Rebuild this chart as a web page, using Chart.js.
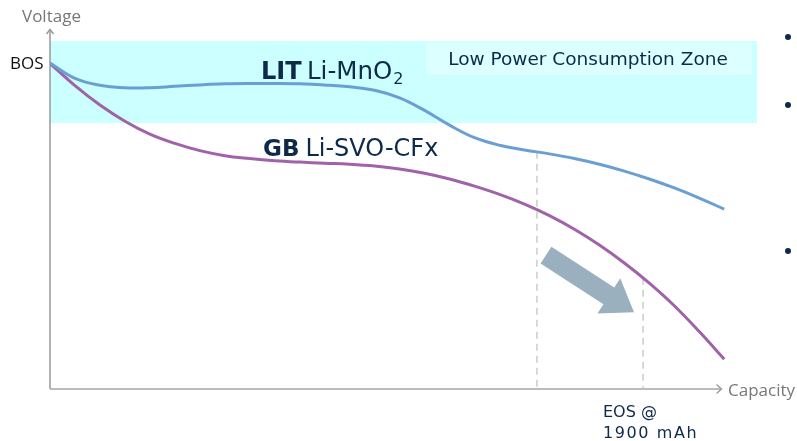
<!DOCTYPE html>
<html>
<head>
<meta charset="utf-8">
<script src="https://cdn.jsdelivr.net/npm/chart.js@4/dist/chart.umd.min.js"></script>
<style>
html,body{margin:0;padding:0;background:#fff;}
#wrap{position:relative;width:797px;height:441px;}
</style>
</head>
<body>
<div id="wrap"><canvas id="c" width="797" height="441"></canvas></div>
<script>
// Capacity in mAh (EOS at 1900 mAh), voltage normalised 0-100
const capacity = [0, 80, 160, 240, 320, 400, 480, 560, 640, 720, 800, 880, 960, 1040, 1120, 1200, 1280, 1360, 1440, 1520, 1600, 1680, 1760, 1840, 1920, 2000, 2080, 2160];
const litV = [90.8, 86.5, 84.6, 83.9, 83.9, 84.3, 84.7, 85.0, 85.1, 85.1, 85.0, 84.7, 84.2, 83.2, 81.1, 77.6, 73.5, 70.0, 67.9, 66.6, 65.5, 64.2, 62.6, 60.7, 58.5, 56.0, 53.2, 50.1];
const gbV = [90.7, 84.5, 79.1, 74.6, 71.0, 68.4, 66.4, 65.0, 64.2, 63.6, 63.2, 62.9, 62.6, 62.1, 61.3, 60.1, 58.5, 56.5, 54.2, 51.5, 48.3, 44.5, 40.1, 35.1, 29.5, 23.2, 16.0, 8.3];
const zoneCap = [0, 2265];
const zoneV = [74.1, 96.9];
const markerCap = [1560, 1900];
const markerTopV = [66.1, 31.0];
const arrowFrom = [1589, 37.3];
const arrowTo = [1871, 21.4];

const toPts = (xs, ys) => xs.map((x, i) => ({x, y: ys[i]}));

const drawPlugin = {
  id: 'deco',
  beforeDatasetsDraw(chart) {
    const ctx = chart.ctx, xs = chart.scales.x, ys = chart.scales.y;
    ctx.save();
    const zx0 = xs.getPixelForValue(zoneCap[0]), zx1 = xs.getPixelForValue(zoneCap[1]);
    const zy0 = ys.getPixelForValue(zoneV[1]), zy1 = ys.getPixelForValue(zoneV[0]);
    ctx.fillStyle = '#ccffff';
    ctx.fillRect(zx0, zy0, zx1 - zx0, zy1 - zy0);
    ctx.fillStyle = '#dcffff';
    ctx.fillRect(426, zy0 + 2, 326, 32);
    ctx.fillStyle = '#0d2a4a';
    ctx.font = '18.5px "DejaVu Sans"';
    ctx.textBaseline = 'middle';
    ctx.textAlign = 'center';
    ctx.fillText('Low Power Consumption Zone', 588, zy0 + 19);
    const ox = xs.getPixelForValue(0), oy = ys.getPixelForValue(0);
    ctx.strokeStyle = '#999';
    ctx.lineWidth = 1.5;
    ctx.beginPath(); ctx.moveTo(ox, oy); ctx.lineTo(ox, 30); ctx.stroke();
    ctx.beginPath(); ctx.moveTo(ox - 3.5, 34); ctx.lineTo(ox, 29.5); ctx.lineTo(ox + 3.5, 34); ctx.stroke();
    ctx.strokeStyle = '#bbb';
    ctx.lineWidth = 2;
    ctx.beginPath(); ctx.moveTo(ox, oy); ctx.lineTo(721, oy); ctx.stroke();
    ctx.strokeStyle = '#999';
    ctx.lineWidth = 1.3;
    ctx.beginPath(); ctx.moveTo(716.5, oy - 4.5); ctx.lineTo(721.5, oy); ctx.lineTo(716.5, oy + 4.5); ctx.stroke();
    ctx.restore();
  },
  afterDatasetsDraw(chart) {
    const ctx = chart.ctx, xs = chart.scales.x, ys = chart.scales.y;
    ctx.save();
    const x0 = xs.getPixelForValue(arrowFrom[0]), y0 = ys.getPixelForValue(arrowFrom[1]);
    const x1 = xs.getPixelForValue(arrowTo[0]), y1 = ys.getPixelForValue(arrowTo[1]);
    const ang = Math.atan2(y1 - y0, x1 - x0), len = Math.hypot(x1 - x0, y1 - y0);
    ctx.translate(x0, y0); ctx.rotate(ang);
    const sw = 10, hw = 21, hl = 30;
    ctx.fillStyle = '#9bb0be';
    ctx.beginPath();
    ctx.moveTo(0, -sw); ctx.lineTo(len - hl, -sw); ctx.lineTo(len - hl, -hw);
    ctx.lineTo(len, 0); ctx.lineTo(len - hl, hw); ctx.lineTo(len - hl, sw); ctx.lineTo(0, sw);
    ctx.closePath(); ctx.fill();
    ctx.setTransform(1, 0, 0, 1, 0, 0);
    ctx.textBaseline = 'alphabetic';
    ctx.textAlign = 'left';
    ctx.fillStyle = '#777';
    ctx.font = '17px "Open Sans"';
    ctx.fillText('Voltage', 22, 22);
    ctx.fillText('Capacity', 728, 396);
    ctx.fillStyle = '#111';
    ctx.fillText('BOS', 10, 69);
    ctx.fillStyle = '#0d2a4a';
    ctx.font = '16px "DejaVu Sans"';
    ctx.fillText('EOS @', 603, 417);
    ctx.letterSpacing = '1.6px';
    ctx.fillText('1900 mAh', 603, 438);
    ctx.letterSpacing = '0px';
    ctx.font = 'bold 24px "DejaVu Sans"';
    ctx.fillText('LIT', 261, 79);
    let w = ctx.measureText('LIT ').width;
    ctx.font = '24.5px "DejaVu Sans"';
    ctx.fillText('Li-MnO', 258 + w, 79);
    let w2 = ctx.measureText('Li-MnO').width;
    ctx.font = '16px "DejaVu Sans"';
    ctx.fillText('2', 258 + w + w2 + 1, 84);
    ctx.font = 'bold 23px "DejaVu Sans"';
    ctx.fillText('GB', 263, 156);
    w = ctx.measureText('GB ').width;
    ctx.font = '24px "DejaVu Sans"';
    ctx.fillText('Li-SVO-CFx', 261 + w, 156);
    ctx.fillStyle = '#0d2a4a';
    [37, 105, 251].forEach(y => { ctx.beginPath(); ctx.arc(788, y, 3, 0, Math.PI * 2); ctx.fill(); });
    ctx.restore();
  }
};

new Chart(document.getElementById('c'), {
  type: 'line',
  data: {
    datasets: [
      { label: 'LIT Li-MnO2', data: toPts(capacity, litV), borderColor: '#6a9fd4', borderWidth: 3, pointRadius: 0, tension: 0.4, fill: false },
      { label: 'GB Li-SVO-CFx', data: toPts(capacity, gbV), borderColor: '#a062a8', borderWidth: 3, pointRadius: 0, tension: 0.4, fill: false },
      { label: 'm1', data: [{x: markerCap[0], y: markerTopV[0]}, {x: markerCap[0], y: 0}], borderColor: '#c4c4c4', borderWidth: 1.3, borderDash: [7, 5], pointRadius: 0, order: 5 },
      { label: 'm2', data: [{x: markerCap[1], y: markerTopV[1]}, {x: markerCap[1], y: 0}], borderColor: '#c4c4c4', borderWidth: 1.3, borderDash: [7, 5], pointRadius: 0, order: 5 }
    ]
  },
  options: {
    responsive: false,
    animation: false,
    layout: { padding: { left: 50, right: 40, top: 30, bottom: 52 } },
    plugins: { legend: { display: false }, tooltip: { enabled: false } },
    scales: {
      x: { type: 'linear', min: 0, max: 2265, display: false },
      y: { type: 'linear', min: 0, max: 100, display: false }
    }
  },
  plugins: [drawPlugin]
});
</script>
</body>
</html>
